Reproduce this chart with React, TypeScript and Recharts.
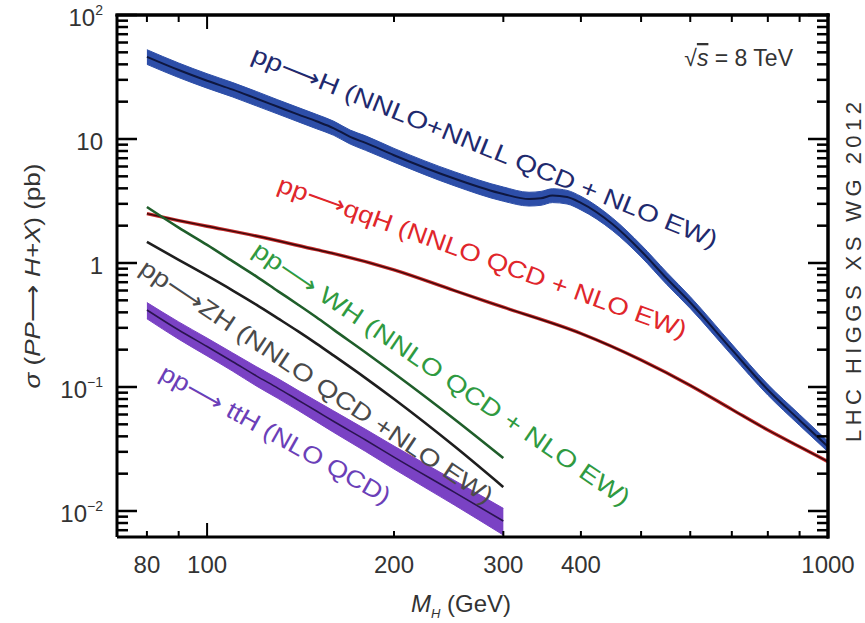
import React from 'react';
import { ComposedChart, Line, Area, XAxis, YAxis } from 'recharts';

// ---------- data ----------
const ggHMass = [80, 90, 100, 110, 120, 130, 140, 150, 160, 170, 180, 200, 250, 300, 330, 345, 360, 380, 400, 450, 500, 550, 600, 700, 800, 900, 1000];
const ggHCentral = [46, 36, 29.5, 25, 21.2, 18.2, 15.8, 13.9, 12.2, 10.4, 9.3, 7.4, 4.8, 3.6, 3.28, 3.33, 3.5, 3.4, 3.05, 2.05, 1.25, 0.75, 0.48, 0.2, 0.095, 0.054, 0.033];
const ggHHigh = [52.5, 41, 33.6, 28.5, 24.2, 20.7, 18.0, 15.8, 13.9, 11.8, 10.6, 8.4, 5.45, 4.1, 3.72, 3.78, 3.97, 3.85, 3.45, 2.3, 1.4, 0.84, 0.535, 0.222, 0.105, 0.06, 0.0365];
const ggHLow = [40, 31.3, 25.7, 21.8, 18.5, 15.9, 13.8, 12.1, 10.7, 9.1, 8.1, 6.5, 4.2, 3.15, 2.88, 2.92, 3.07, 2.99, 2.68, 1.82, 1.12, 0.67, 0.43, 0.18, 0.086, 0.049, 0.03];

const qqHMass = [80, 90, 100, 120, 150, 160, 200, 250, 300, 400, 500, 600, 700, 800, 900, 1000];
const qqHValues = [2.5, 2.2, 1.98, 1.65, 1.28, 1.19, 0.88, 0.6, 0.44, 0.27, 0.165, 0.103, 0.066, 0.045, 0.033, 0.025];

const vhMass = [80, 90, 100, 110, 120, 130, 140, 150, 160, 180, 200, 250, 300];
const whValues = [2.83, 1.93, 1.4, 1.03, 0.78, 0.594, 0.463, 0.365, 0.289, 0.19, 0.129, 0.0552, 0.0267];
const zhValues = [1.48, 1.06, 0.79, 0.6, 0.462, 0.358, 0.282, 0.224, 0.179, 0.118, 0.08, 0.0334, 0.0156];
const ttHValues = [0.418, 0.288, 0.212, 0.16, 0.123, 0.098, 0.0786, 0.064, 0.0527, 0.0374, 0.0272, 0.0142, 0.0083];
const ttHHigh = [0.48, 0.335, 0.248, 0.188, 0.146, 0.117, 0.094, 0.077, 0.064, 0.0456, 0.0334, 0.0177, 0.0105];
const ttHLow = [0.355, 0.243, 0.178, 0.134, 0.102, 0.081, 0.065, 0.0525, 0.043, 0.0302, 0.0218, 0.0112, 0.0064];

const xTicks = [80, 90, 100, 200, 300, 400, 500, 600, 700, 800, 900, 1000];
const xTickLabels: Record<number, string> = { 80: '80', 100: '100', 200: '200', 300: '300', 400: '400', 1000: '1000' };
const yTicks = [0.007, 0.008, 0.009, 0.01, 0.02, 0.03, 0.04, 0.05, 0.06, 0.07, 0.08, 0.09, 0.1, 0.2, 0.3, 0.4, 0.5, 0.6, 0.7, 0.8, 0.9, 1, 2, 3, 4, 5, 6, 7, 8, 9, 10, 20, 30, 40, 50, 60, 70, 80, 90, 100];
const yMajor = [0.01, 0.1, 1, 10, 100];
const yTickBase: Record<string, string> = { '0.01': '10', '0.1': '10', '1': '1', '10': '10', '100': '10' };
const yTickExp: Record<string, string> = { '0.01': '\u22122', '0.1': '\u22121', '1': '', '10': '', '100': '2' };

const xDomain = [71.6, 1000];
const yDomain = [0.00617, 100];

// tables for the library
const ggHData = ggHMass.map((m, i) => ({ m, v: ggHCentral[i], band: [ggHLow[i], ggHHigh[i]] }));
const qqHData = qqHMass.map((m, i) => ({ m, v: qqHValues[i] }));
const whData = vhMass.map((m, i) => ({ m, v: whValues[i] }));
const zhData = vhMass.map((m, i) => ({ m, v: zhValues[i] }));
const ttHData = vhMass.map((m, i) => ({ m, v: ttHValues[i], band: [ttHLow[i], ttHHigh[i]] }));

// layout
const CHART_W = 865;
const CHART_H = 623;
const MARGIN = { top: 15, right: 37, bottom: 0, left: 0 };
const YAXIS_W = 117;
const XAXIS_H = 86;
const PLOT_L = MARGIN.left + YAXIS_W;
const PLOT_T = MARGIN.top;
const PLOT_W = CHART_W - MARGIN.left - MARGIN.right - YAXIS_W;
const PLOT_H = CHART_H - MARGIN.top - MARGIN.bottom - XAXIS_H;

const FONT = '"Liberation Sans", Arial, Helvetica, sans-serif';
const TXT = '#333333';
const ARROW = '\u27F6';

const isMajorY = (v: number) => yMajor.some((t) => Math.abs(t - v) / t < 1e-6);
const isMajorX = (v: number) => v === 100 || v === 1000;

// left-axis tick: label, inward tick, and the mirrored tick on the right edge of the frame
const LeftTick = (props: any) => {
  const x = Number(props.x);
  const y = Number(props.y);
  const v = props.payload.value;
  const major = isMajorY(v);
  const key = String(v);
  const len = major ? 20 : 11;
  return (
    <g>
      <rect x={x} y={y - 1.25} width={len} height={2.5} fill="#000" />
      <rect x={x + PLOT_W - len} y={y - 1.25} width={len} height={2.5} fill="#000" />
      {v === yDomain[1] && <rect x={x - 1.5} y={y - 1.5} width={PLOT_W + 3} height={3} fill="#000" />}
      {major && (
        <text x={x - 14} y={y + 11} textAnchor="end" fontSize={24} fill={TXT} fontFamily={FONT}>
          {yTickBase[key]}
          {yTickExp[key] && (
            <tspan dy={-11} fontSize={14}>{yTickExp[key]}</tspan>
          )}
        </text>
      )}
    </g>
  );
};

// bottom-axis tick: label, inward tick, and the mirrored tick on the top edge of the frame
const BottomTick = (props: any) => {
  const x = Number(props.x);
  const y = Number(props.y);
  const v = props.payload.value;
  const label = xTickLabels[v];
  const major = isMajorX(v);
  const lenB = major ? 14 : 6;
  const lenT = major ? 14 : 7;
  return (
    <g>
      <rect x={x - 1} y={y - lenB} width={2} height={lenB} fill="#000" />
      <rect x={x - 1} y={y - PLOT_H} width={2} height={lenT} fill="#000" />
      {v === xDomain[1] && <rect x={x - 1.5} y={y - PLOT_H - 1.5} width={3} height={PLOT_H + 3} fill="#000" />}
      {label && (
        <text x={x} y={y + 36} textAnchor="middle" fontSize={24} fill={TXT} fontFamily={FONT}>
          {label}
        </text>
      )}
    </g>
  );
};

const CurveLabel = ({ x, y, angle, length, color, children }: any) => (
  <text
    x={x}
    y={y}
    transform={`rotate(${angle} ${x} ${y})`}
    fontSize={24}
    fill={color}
    fontFamily={FONT}
    textLength={length}
    lengthAdjust="spacingAndGlyphs"
  >
    {children}
  </text>
);

export default function App() {
  const axisLine = { stroke: '#000', strokeWidth: 3 };
  return (
    <div style={{ position: 'absolute', left: 0, top: 0, width: CHART_W, height: CHART_H, background: '#fff' }}>
      <ComposedChart width={CHART_W} height={CHART_H} margin={MARGIN}>
        <XAxis
          xAxisId="b"
          dataKey="m"
          type="number"
          scale="log"
          domain={xDomain}
          allowDataOverflow
          orientation="bottom"
          height={XAXIS_H}
          ticks={xTicks}
          interval={0}
          tickSize={0}
          tickMargin={0}
          tickLine={false}
          axisLine={axisLine}
          tick={BottomTick}
        />
        <YAxis
          yAxisId="l"
          type="number"
          scale="log"
          domain={yDomain}
          allowDataOverflow
          orientation="left"
          width={YAXIS_W}
          ticks={yTicks}
          interval={0}
          tickSize={0}
          tickMargin={0}
          tickLine={false}
          axisLine={axisLine}
          tick={LeftTick}
        />

        <Area data={ggHData} xAxisId="b" yAxisId="l" dataKey="band" type="monotone" stroke="#2d4ea8" strokeWidth={1} fill="#2d4ea8" fillOpacity={1} isAnimationActive={false} dot={false} activeDot={false} />
        <Line data={ggHData} xAxisId="b" yAxisId="l" dataKey="v" type="monotone" stroke="#0e1740" strokeWidth={2} dot={false} activeDot={false} isAnimationActive={false} />

        <Line data={qqHData} xAxisId="b" yAxisId="l" dataKey="v" type="monotone" stroke="#c42a2a" strokeWidth={3.4} dot={false} activeDot={false} isAnimationActive={false} />
        <Line data={qqHData} xAxisId="b" yAxisId="l" dataKey="v" type="monotone" stroke="#3a0808" strokeWidth={1.4} dot={false} activeDot={false} isAnimationActive={false} />

        <Line data={whData} xAxisId="b" yAxisId="l" dataKey="v" type="monotone" stroke="#1f5e2a" strokeWidth={2.6} dot={false} activeDot={false} isAnimationActive={false} />
        <Line data={zhData} xAxisId="b" yAxisId="l" dataKey="v" type="monotone" stroke="#1e1e1e" strokeWidth={2.6} dot={false} activeDot={false} isAnimationActive={false} />

        <Area data={ttHData} xAxisId="b" yAxisId="l" dataKey="band" type="monotone" stroke="#7a42c4" strokeWidth={1} fill="#7a42c4" fillOpacity={1} isAnimationActive={false} dot={false} activeDot={false} />
        <Line data={ttHData} xAxisId="b" yAxisId="l" dataKey="v" type="monotone" stroke="#2a1450" strokeWidth={1.6} dot={false} activeDot={false} isAnimationActive={false} />
      </ComposedChart>

      <svg width={CHART_W} height={CHART_H} style={{ position: 'absolute', left: 0, top: 0, pointerEvents: 'none' }}>
        {/* top and right frame edges as filled bars */}
        <rect x={PLOT_L - 1.5} y={PLOT_T - 1.5} width={PLOT_W + 3} height={3} fill="#000" />
        <rect x={PLOT_L + PLOT_W - 1.5} y={PLOT_T - 1.5} width={3} height={PLOT_H + 3} fill="#000" />

        {/* curve labels */}
        <CurveLabel x={250} y={61} angle={22} length={500} color="#1f2a6e">{`pp${ARROW}H (NNLO+NNLL QCD + NLO EW)`}</CurveLabel>
        <CurveLabel x={276} y={191} angle={19.9} length={433} color="#e0262b">{`pp${ARROW}qqH (NNLO QCD + NLO EW)`}</CurveLabel>
        <CurveLabel x={251} y={254} angle={34.2} length={450} color="#2f9a41">{`pp${ARROW} WH (NNLO QCD + NLO EW)`}</CurveLabel>
        <CurveLabel x={138} y={272} angle={33.8} length={419} color="#4a4a4a">{`pp${ARROW}ZH (NNLO QCD +NLO EW)`}</CurveLabel>
        <CurveLabel x={158} y={378} angle={29.2} length={260} color="#6b3fb8">{`pp${ARROW} ttH (NLO QCD)`}</CurveLabel>

        {/* energy */}
        <text x={793} y={66} textAnchor="end" fontSize={23} fill={TXT} fontFamily={FONT}>
          √<tspan fontStyle="italic" style={{ textDecoration: 'overline' }}>s</tspan> = 8 TeV
        </text>

        {/* side text */}
        <text transform="translate(861 272) rotate(-90)" textAnchor="middle" fontSize={22} fill={TXT} fontFamily={FONT} textLength={340} lengthAdjust="spacing">
          LHC HIGGS XS WG 2012
        </text>

        {/* axis titles */}
        <text transform="translate(40 276) rotate(-90)" textAnchor="middle" fontSize={22} fill={TXT} fontFamily={FONT} textLength={225} lengthAdjust="spacingAndGlyphs">
          <tspan fontStyle="italic">σ</tspan> (<tspan fontStyle="italic">PP</tspan>{ARROW} <tspan fontStyle="italic">H+X</tspan>) (pb)
        </text>
        <text x={461} y={612} textAnchor="middle" fontSize={24} fill={TXT} fontFamily={FONT}>
          <tspan fontStyle="italic">M</tspan>
          <tspan fontStyle="italic" fontSize={13} dy={6}>H</tspan>
          <tspan dy={-6}> (GeV)</tspan>
        </text>
      </svg>
    </div>
  );
}
